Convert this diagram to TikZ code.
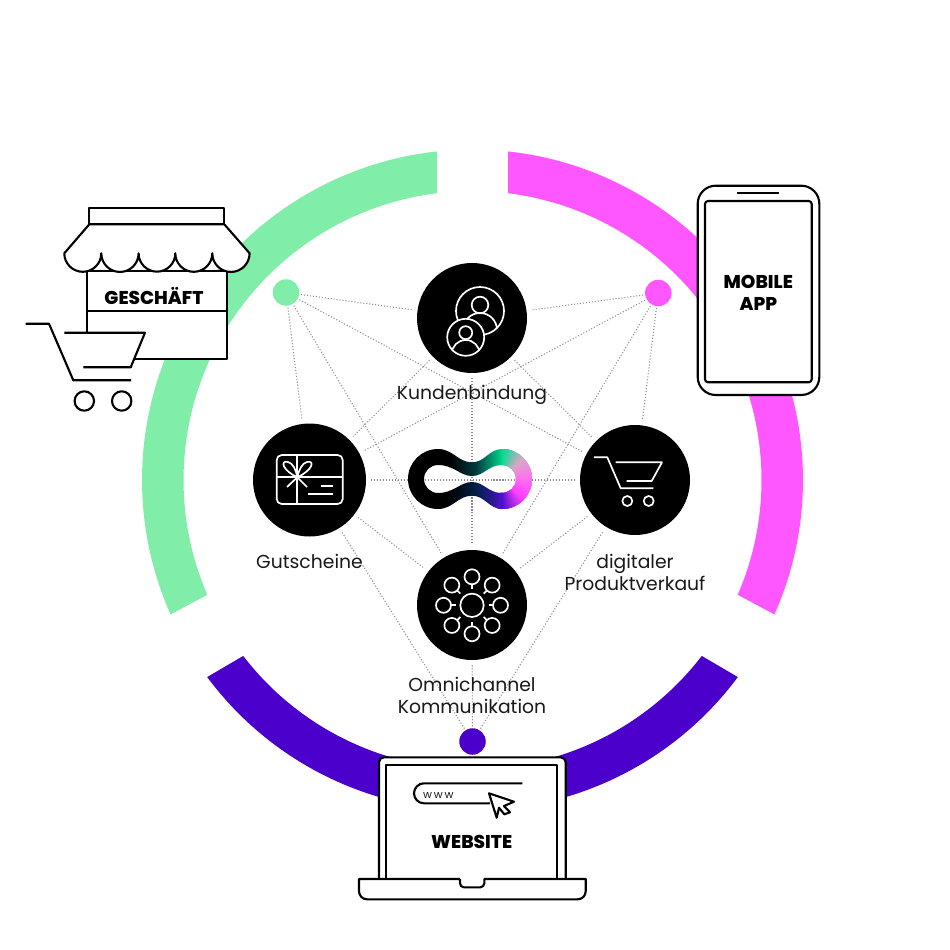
\documentclass[tikz,border=0pt]{standalone}
\usepackage{fontspec}
\setmainfont{Poppins}
\newfontfamily\heavyfont{Poppins}[UprightFont=* ExtraBold]
\definecolor{ringgreen}{HTML}{80EDA8}
\definecolor{ringpink}{HTML}{FF57FF}
\definecolor{ringpurple}{HTML}{4B00CC}
\definecolor{logogreen}{HTML}{00DD90}
\definecolor{logogrey}{HTML}{D8A8C8}
\definecolor{logopink}{HTML}{FF70F0}
\definecolor{logomagenta}{HTML}{FF3DFF}
\definecolor{logopurple}{HTML}{4B10C8}
\definecolor{logoteal}{HTML}{003A40}
\definecolor{logonavy}{HTML}{002048}
\tikzset{
  disc/.style={circle, fill=black, inner sep=0pt, outer sep=0pt, minimum size=1.10cm},
  dot/.style={circle, inner sep=0pt, outer sep=0pt, minimum size=.265cm},
  link/.style={color=black!45, line width=.3pt, dash pattern=on .3pt off .55pt},
  outline/.style={line width=.6pt, color=black, line join=round},
  icon/.style={line width=.48pt, color=white, line join=round},
  caption/.style={align=center, inner sep=0pt, color=black!90, font=\fontsize{5.34}{6.26}\selectfont},
  brand/.style={align=center, inner sep=0pt, font=\heavyfont\fontsize{5.27}{6.2}\selectfont}
}

\begin{document}
\begin{tikzpicture}[yscale=-1]
  \useasboundingbox (0,0) rectangle (9.5,9.5);

  % ring
  \begin{scope}[shift={(4.725,4.80)}]
    \fill[ringgreen] (-96.18:3.305) arc (-96.18:-204:3.305) -- (-203.4:2.89) arc (-203.4:-97.06:2.89) -- cycle;
    \fill[ringpink] (-83.82:3.305) arc (-83.82:24:3.305) -- (23.4:2.89) arc (23.4:-82.94:2.89) -- cycle;
    \fill[ringpurple] (-216.6:3.305) arc (-216.6:-323.4:3.305) -- (-322.5:2.89) arc (-322.5:-217.5:2.89) -- cycle;
  \end{scope}

  % hubs
  \node[dot, fill=ringgreen] (shop) at (2.86,2.925) {};
  \node[dot, fill=ringpink] (app) at (6.583,2.93) {};
  \node[dot, fill=ringpurple] (web) at (4.725,7.415) {};
  \node[disc] (kunden) at (4.72,3.18) {};
  \node[disc, minimum size=1.13cm] (gutschein) at (3.095,4.80) {};
  \node[disc] (produkt) at (6.35,4.80) {};
  \node[disc] (omni) at (4.72,6.05) {};

  \foreach \from/\to in {shop/kunden, shop/gutschein, shop/omni, shop/produkt,
      app/kunden, app/gutschein, app/omni, app/produkt,
      web/gutschein, web/omni, web/produkt}
    \draw[link, shorten <=.02cm, shorten >=.05cm] (\from) -- (\to);
  \foreach \from/\to in {kunden/gutschein, kunden/produkt, kunden/omni,
      gutschein/produkt, gutschein/omni, produkt/omni}
    \draw[link, shorten <=.05cm, shorten >=.05cm] (\from) -- (\to);

  % logo
  \begin{scope}
    \clip (4.72,4.623) .. controls (4.85,4.623) and (4.89,4.49) .. (5.02,4.49) arc (-90:90:.30)
      .. controls (4.89,5.09) and (4.85,4.957) .. (4.72,4.957)
      .. controls (4.58,4.957) and (4.53,5.09) .. (4.38,5.09) arc (90:270:.30)
      .. controls (4.53,4.49) and (4.58,4.623) .. (4.72,4.623) -- cycle
      (4.72,4.76) .. controls (4.60,4.76) and (4.54,4.65) .. (4.38,4.65) arc (270:90:.14)
      .. controls (4.54,4.93) and (4.60,4.82) .. (4.72,4.82)
      .. controls (4.84,4.82) and (4.88,4.93) .. (5.02,4.93) arc (90:-90:.14)
      .. controls (4.88,4.65) and (4.84,4.76) .. (4.72,4.76) -- cycle;
    \fill[black] (4.0,4.4) rectangle (4.5,5.2);
    \shade[left color=black, right color=logogreen, middle color=logoteal] (4.49,4.4) rectangle (5.03,4.80);
    \shade[left color=black, right color=logopurple, middle color=logonavy] (4.49,4.80) rectangle (5.03,5.2);
    \foreach \ca/\cb/\s in {logogreen/logogrey/-90, logogrey/logopink/-45, logopink/logomagenta/0, logomagenta/logopurple/45}
      \foreach \p in {0,5,...,100}
        \fill[\cb!\p!\ca] (5.02,4.79) -- ++({\s+.45*\p-1}:.5) -- ++({\s+.45*\p+90}:.1) -- cycle;
  \end{scope}

  % kunden icon
  \begin{scope}
    \clip (4.80,3.11) circle (.24);
    \draw[icon] (4.80,3.30) circle (.17);
  \end{scope}
  \draw[icon] (4.80,3.11) circle (.24);
  \draw[icon] (4.80,3.05) circle (.083);
  \draw[icon, fill=black] (4.657,3.373) circle (.185);
  \begin{scope}
    \clip (4.657,3.373) circle (.185);
    \draw[icon] (4.657,3.54) circle (.14);
  \end{scope}
  \draw[icon] (4.657,3.327) circle (.065);

  % gift card
  \draw[icon, rounded corners=.05cm] (2.767,4.55) rectangle (3.427,5.04);
  \draw[icon] (2.973,4.55) -- (2.973,5.04) (2.767,4.773) -- (3.427,4.773);
  \draw[icon] (2.973,4.773) .. controls (2.82,4.70) and (2.80,4.60) .. (2.88,4.62)
    .. controls (2.93,4.63) and (2.96,4.70) .. (2.973,4.773)
    .. controls (2.99,4.70) and (3.02,4.63) .. (3.07,4.62)
    .. controls (3.15,4.60) and (3.13,4.70) .. (2.973,4.773);
  \draw[icon] (2.87,4.87) -- (2.973,4.773) -- (3.07,4.87);
  \draw[icon] (3.21,4.857) -- (3.33,4.857) (3.08,4.94) -- (3.33,4.94);

  % cart icon
  \draw[icon] (5.94,4.573) -- (6.073,4.573) -- (6.207,4.883) -- (6.533,4.883);
  \draw[icon] (6.157,4.623) -- (6.62,4.623) -- (6.517,4.81) -- (6.267,4.81);
  \draw[icon] (6.273,5.01) circle (.05) (6.487,5.01) circle (.05);

  % omnichannel icon
  \draw[icon] (4.72,6.053) circle (.117);
  \foreach \a in {0,45,...,315} {
    \draw[icon] (4.72,6.053) ++(\a:.285) circle (.075);
    \draw[icon] (4.72,6.053) ++(\a:.21) -- ++(\a:-.045);
  }

  % shop
  \draw[outline, fill=white] (.873,2.71) rectangle (2.267,3.593);
  \draw[outline, fill=white] (.893,2.077) rectangle (2.243,2.243);
  \draw[outline, fill=white] (.893,2.243) -- (.643,2.533) arc (180:0:.185) arc (180:0:.1865) arc (180:0:.1835) arc (180:0:.185) arc (180:0:.1865)
    -- (2.243,2.243) -- cycle;
  \draw[outline] (.873,3.107) -- (2.267,3.107);
  \node[brand] (geschaeft) at (1.54,2.955) {GESCHÄFT};
  \fill[white] (.80,3.33) rectangle (1.35,3.70);
  \draw[outline] (.873,3.107) -- (.873,3.327);
  \draw[outline] (1.35,3.593) -- (2.267,3.593);
  \draw[outline] (.257,3.237) -- (.49,3.237) -- (.733,3.803) -- (1.31,3.803);
  \draw[outline] (.643,3.327) -- (1.45,3.327) -- (1.307,3.673) -- (.833,3.673);
  \draw[outline] (.843,4.01) circle (.097) (1.217,4.01) circle (.097);

  % phone
  \draw[outline, fill=white, rounded corners=.18cm] (6.977,1.857) rectangle (8.193,3.95);
  \draw[outline, rounded corners=.03cm] (7.05,2.01) rectangle (8.117,3.823);
  \draw[outline] (7.373,1.927) -- (7.79,1.927);
  \node[brand] (mobile) at (7.583,2.93) {MOBILE\\APP};

  % laptop
  \draw[outline, fill=white, rounded corners=.05cm] (3.79,8.79) -- (3.79,7.573) -- (5.657,7.573) -- (5.657,8.79);
  \draw[outline] (3.86,8.79) -- (3.86,7.65) -- (5.567,7.65) -- (5.567,8.79);
  \draw[outline, fill=white] (4.60,8.79) [rounded corners=.04cm] -- (4.60,8.873) -- (4.843,8.873) [sharp corners] -- (4.843,8.79)
    -- (5.857,8.79) [rounded corners=.08cm] -- (5.857,8.993) -- (3.59,8.993) [sharp corners] -- (3.59,8.79) -- (4.60,8.79);
  \draw[outline] (5.223,7.833) -- (4.24,7.833) arc (270:90:.10) -- (4.90,8.033);
  \node[brand] (website) at (4.717,8.423) {WEBSITE};
  \node[caption, font=\fontsize{3.1}{4}\selectfont] (www) at (4.383,7.953) {w\,w\,w};
  \draw[outline, fill=white] (4.89,7.933) -- (5.14,8.017) -- (5.04,8.06) -- (5.10,8.123) -- (5.043,8.143) -- (4.99,8.077) -- (4.967,8.177) -- cycle;

  % captions
  \node[caption] (kundentxt) at (4.72,3.95) {Kundenbindung};
  \node[caption] (gutscheintxt) at (3.095,5.61) {Gutscheine};
  \node[caption] (produkttxt) at (6.35,5.72) {digitaler\\Produktverkauf};
  \node[caption] (omnitxt) at (4.72,6.95) {Omnichannel\\Kommunikation};
\end{tikzpicture}
\end{document}
